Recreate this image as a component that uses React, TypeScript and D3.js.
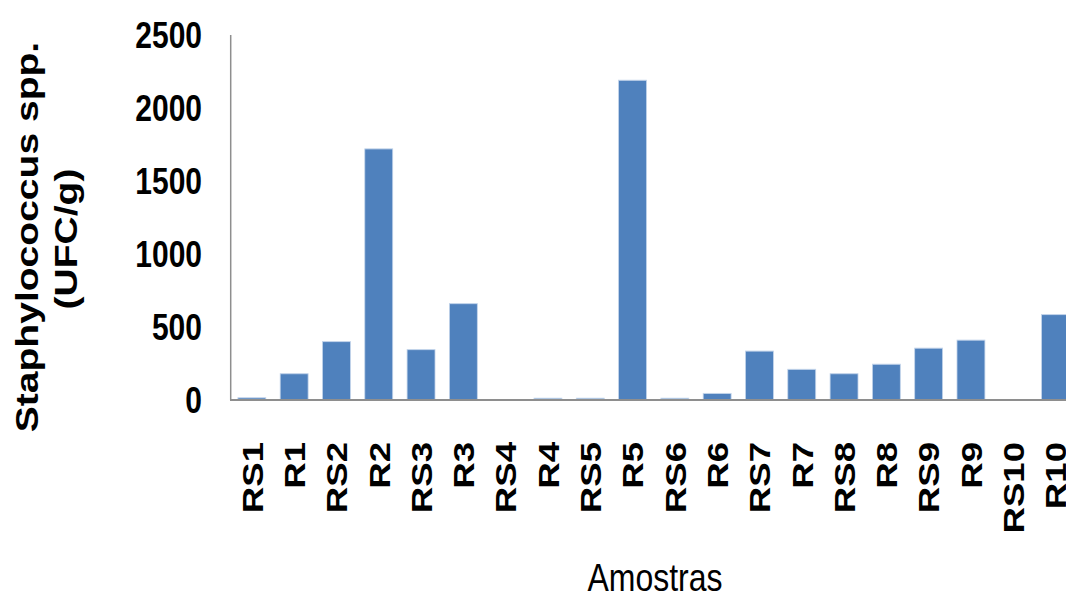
import React from "react";
import * as d3 from "d3";

// Amostras (samples) and Staphylococcus spp. counts (UFC/g)
const categories = [
  "RS1", "R1", "RS2", "R2", "RS3", "R3", "RS4", "R4", "RS5", "R5",
  "RS6", "R6", "RS7", "R7", "RS8", "R8", "RS9", "R9", "RS10", "R10",
];
const values = [
  15, 180, 400, 1720, 345, 660, 0, 12, 12, 2190,
  12, 45, 335, 210, 180, 245, 355, 410, 0, 585,
];
const yTicks = [0, 500, 1000, 1500, 2000, 2500];

const W = 1066;
const H = 595;
// The drawing is laid out in a compact frame and stretched vertically.
const SY = 1.22;

export default function App() {
  const x = d3
    .scaleBand<string>()
    .domain(categories)
    .range([230.7, 230.7 + categories.length * 42.3])
    .paddingInner(0.34)
    .paddingOuter(0.17);

  const y = d3.scaleLinear().domain([0, 2500]).range([400 / SY, 35 / SY]);

  const axisColor = "#8e8e8e";
  const font = "'Liberation Sans', Arial, sans-serif";
  const labelTop = 442 / SY;

  return (
    <div style={{ position: "absolute", left: 0, top: 0 }}>
      <svg width={W} height={H} style={{ display: "block", background: "#fff" }}>
        <g transform={`scale(1, ${SY})`} fontFamily={font}>
          {/* bars */}
          {categories.map((c, i) =>
            values[i] > 0 ? (
              <rect
                key={c}
                x={x(c)!}
                y={y(values[i])}
                width={x.bandwidth()}
                height={y(0) - y(values[i])}
                fill="#4f81bd"
                stroke="#c3d4ea"
                strokeWidth={0.8}
              />
            ) : null
          )}

          {/* axes */}
          <line x1={230.7} x2={230.7} y1={y(2500)} y2={y(0)} stroke={axisColor} strokeWidth={1.5} />
          <line x1={230} x2={W} y1={y(0)} y2={y(0)} stroke={axisColor} strokeWidth={1.5} />

          {/* y tick labels */}
          {yTicks.map((t) => (
            <text
              key={t}
              x={202}
              y={y(t)}
              dy="0.36em"
              textAnchor="end"
              fontSize={30}
              fontWeight="bold"
              fill="#000"
            >
              {t}
            </text>
          ))}

          {/* category labels */}
          {categories.map((c) => (
            <text
              key={c}
              transform={`translate(${x(c)! + x.bandwidth() / 2 + 10.8}, ${labelTop}) rotate(-90)`}
              textAnchor="end"
              fontSize={30}
              fontWeight="bold"
              fill="#000"
            >
              {c}
            </text>
          ))}

          {/* axis titles */}
          <text
            transform={`translate(38, ${237 / SY}) rotate(-90)`}
            textAnchor="middle"
            fontSize={32}
            fontWeight="bold"
            fill="#000"
          >
            Staphylococcus spp.
          </text>
          <text
            transform={`translate(77, ${239 / SY}) rotate(-90)`}
            textAnchor="middle"
            fontSize={32}
            fontWeight="bold"
            fill="#000"
          >
            (UFC/g)
          </text>
          <text x={655} y={591 / SY} textAnchor="middle" fontSize={32} fill="#000">
            Amostras
          </text>
        </g>
      </svg>
    </div>
  );
}
